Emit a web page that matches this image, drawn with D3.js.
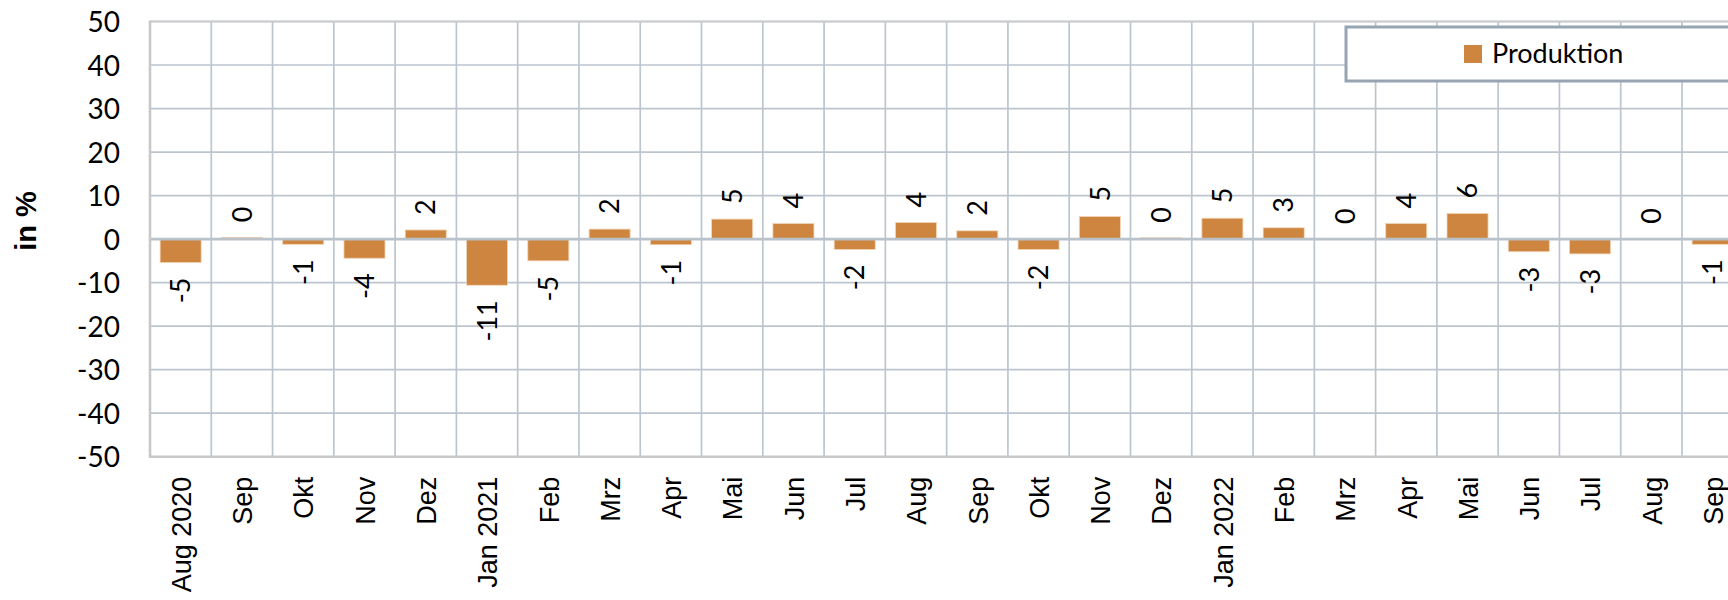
<!DOCTYPE html>
<html lang="de">
  <head>
    <meta charset="utf-8"/>
    <title>Produktion, Veränderung in %</title>
    <script src="https://d3js.org/d3.v7.min.js"></script>
    <style>
      body { margin: 0; background: #fff; }
      svg { display: block; overflow: hidden; }
      .grid line { stroke: #bcc5ce; stroke-width: 1.7px; }
      .tick-label { font-family: Lato, "Open Sans", sans-serif; font-size: 28px; fill: #000; }
      .x-label { font-family: "Liberation Sans", Arial, sans-serif; font-size: 27px; fill: #000; }
      .value-label { font-family: Lato, "Open Sans", sans-serif; font-size: 27px; fill: #000; }
      .bar { fill: #cd853f; stroke: #f2d6b8; stroke-width: 0.8px; }
    </style>
  </head>
  <body>
    <div id="chart"></div>
    <script>
      // data
      var months = ["Aug 2020", "Sep", "Okt", "Nov", "Dez", "Jan 2021", "Feb", "Mrz", "Apr", "Mai",
                    "Jun", "Jul", "Aug", "Sep", "Okt", "Nov", "Dez", "Jan 2022", "Feb", "Mrz",
                    "Apr", "Mai", "Jun", "Jul", "Aug", "Sep"];
      var produktion = [-5.4, 0.4, -1.2, -4.4, 2.1, -10.6, -5.0, 2.3, -1.3, 4.6,
                        3.6, -2.4, 3.8, 1.9, -2.4, 5.2, 0.3, 4.8, 2.6, 0.0,
                        3.6, 5.9, -2.9, -3.4, 0.1, -1.2];
      var yTicks = [-50, -40, -30, -20, -10, 0, 10, 20, 30, 40, 50];
      var seriesName = "Produktion";
      var yTitle = "in %";

      var width = 1728, height = 600;
      var plot = { left: 150, top: 21.5, bottom: 456.7, step: 61.28 };
      var keys = months.map(function(d, i) { return i; });

      var svg = d3.select("#chart").append("svg")
          .attr("width", width)
          .attr("height", height);

      // cells (grid) and bars share the same band layout
      var xCell = d3.scaleBand()
          .domain(keys)
          .range([plot.left, plot.left + plot.step * months.length]);

      var x = d3.scaleBand()
          .domain(keys)
          .range(xCell.range())
          .paddingInner(0.33)
          .paddingOuter(0.165);

      var y = d3.scaleLinear()
          .domain([-50, 50])
          .range([plot.bottom, plot.top]);

      // grid
      var grid = svg.append("g").attr("class", "grid");

      grid.selectAll(".h").data(yTicks.filter(function(d) { return d !== -50 && d !== 0; }))
        .enter().append("line")
          .attr("x1", plot.left).attr("x2", xCell.range()[1])
          .attr("y1", function(d) { return y(d); })
          .attr("y2", function(d) { return y(d); });

      grid.selectAll(".v").data(keys.slice(1))
        .enter().append("line")
          .attr("x1", function(d) { return xCell(d); })
          .attr("x2", function(d) { return xCell(d); })
          .attr("y1", plot.top).attr("y2", plot.bottom);

      // top border a bit lighter
      svg.append("line")
          .attr("x1", plot.left).attr("x2", xCell.range()[1])
          .attr("y1", y(50)).attr("y2", y(50))
          .attr("stroke", "#c9cbce").attr("stroke-width", 2);

      // bars
      svg.selectAll(".bar").data(produktion)
        .enter().append("rect")
          .attr("class", "bar")
          .attr("x", function(d, i) { return x(i); })
          .attr("width", x.bandwidth())
          .attr("y", function(d) { return y(Math.max(0, d)); })
          .attr("height", function(d) { return Math.abs(y(d) - y(0)); });

      // zero line, left and bottom axis lines
      svg.append("line")
          .attr("x1", plot.left).attr("x2", xCell.range()[1])
          .attr("y1", y(0)).attr("y2", y(0))
          .attr("stroke", "#b9c2cb").attr("stroke-width", 2.6);

      svg.append("line")
          .attr("x1", plot.left).attr("x2", xCell.range()[1])
          .attr("y1", y(-50)).attr("y2", y(-50))
          .attr("stroke", "#c8c8c8").attr("stroke-width", 2.6);

      svg.append("line")
          .attr("x1", plot.left).attr("x2", plot.left)
          .attr("y1", plot.top - 1).attr("y2", plot.bottom + 1)
          .attr("stroke", "#c8c8c8").attr("stroke-width", 2.6);

      // y axis labels
      svg.append("g")
          .attr("transform", "translate(" + plot.left + ",0)")
          .call(d3.axisLeft(y).tickValues(yTicks).tickSize(0).tickPadding(30)
            .tickFormat(function(d) { return String(d); }))
          .call(function(g) {
            g.select(".domain").remove();
            g.selectAll("text").attr("class", "tick-label").attr("dy", "0.36em")
              .attr("font-family", null).attr("font-size", null);
          });

      svg.append("text")
          .attr("transform", "translate(26," + 221 + ") rotate(-90)")
          .attr("text-anchor", "middle")
          .attr("dy", "0.36em")
          .style("font-family", "'Liberation Sans', Arial, sans-serif")
          .style("font-size", "29px")
          .style("font-weight", "bold")
          .text(yTitle);

      // x axis labels (rotated)
      svg.selectAll(".x-label").data(months)
        .enter().append("text")
          .attr("class", "x-label")
          .attr("transform", function(d, i) {
            return "translate(" + (xCell(i) + xCell.bandwidth() / 2) + "," + (plot.bottom + 20) + ") rotate(-90)";
          })
          .attr("text-anchor", "end")
          .attr("dy", "0.38em")
          .text(function(d) { return d; });

      // value labels
      svg.selectAll(".value-label").data(produktion)
        .enter().append("text")
          .attr("class", "value-label")
          .attr("transform", function(d, i) {
            var cx = x(i) + x.bandwidth() / 2;
            var cy = d >= 0 ? y(d) - 15 : y(d) + 15;
            return "translate(" + cx + "," + cy + ") rotate(-90)";
          })
          .attr("text-anchor", function(d) { return d >= 0 ? "start" : "end"; })
          .attr("dy", "0.36em")
          .text(function(d) {
            var r = Math.round(d);
            return r === 0 ? "0" : String(r);
          });

      // legend (runs off the right edge like the original)
      var legend = svg.append("g");
      legend.append("rect")
          .attr("x", 1346).attr("y", 27)
          .attr("width", 420).attr("height", 54)
          .attr("fill", "#fff")
          .attr("stroke", "#97a4b1").attr("stroke-width", 3);
      legend.append("rect")
          .attr("x", 1464).attr("y", 45)
          .attr("width", 18).attr("height", 18)
          .attr("fill", "#cd853f");
      legend.append("text")
          .attr("x", 1492).attr("y", 63)
          .style("font-family", "Lato, 'Open Sans', sans-serif")
          .style("font-size", "27px")
          .text(seriesName);
    </script>
  </body>
</html>
